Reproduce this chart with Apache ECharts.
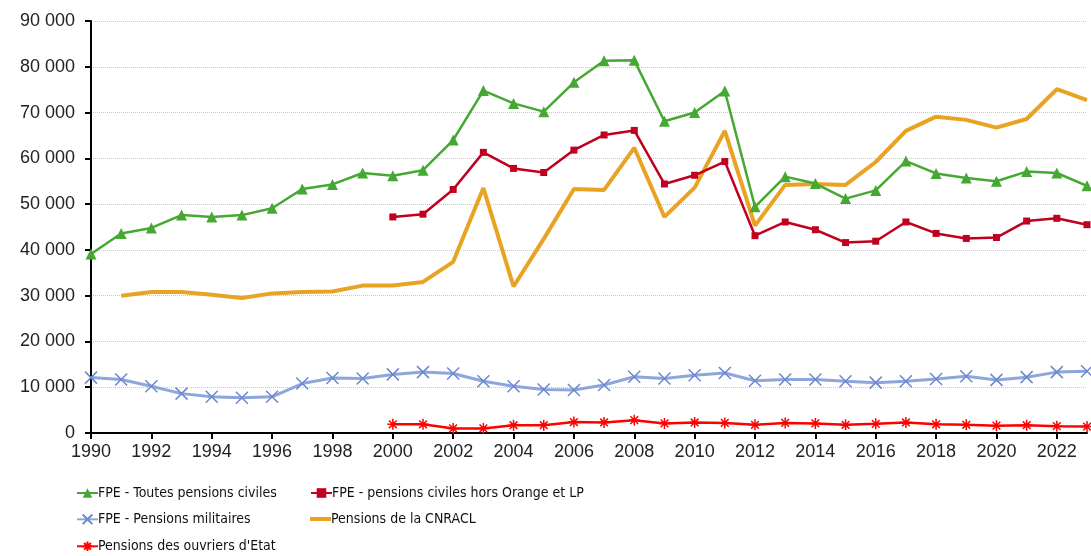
<!DOCTYPE html>
<html>
<head>
<meta charset="utf-8">
<script src="https://cdn.jsdelivr.net/npm/echarts@6/dist/echarts.min.js"></script>
<style>
	html, body { margin: 0; padding: 0; background: #fff; }
	#chart { width: 1091px; height: 556px; }
</style>
</head>
<body>
<div id="chart"></div>
<script>
// years on the x axis
const years = [];
for (let y = 1990; y <= 2023; y++) years.push(String(y));

// FPE - Toutes pensions civiles (1990-2023)
const fpeCiviles = [39100, 43600, 44800, 47600, 47200, 47600, 49100, 53300, 54300, 56800, 56200,
	57400, 64000, 74800, 72000, 70200, 76600, 81300, 81400, 68100, 70000, 74700,
	49400, 56000, 54500, 51200, 53000, 59400, 56700, 55700, 55000, 57100, 56800, 54000];

// FPE - pensions civiles hors Orange et LP (2000-2023)
const fpeHorsOrange = [null, null, null, null, null, null, null, null, null, null,
	47200, 47800, 53200, 61300, 57800, 56900, 61800, 65100, 66100, 54400, 56300, 59300,
	43100, 46100, 44400, 41600, 41900, 46100, 43600, 42500, 42700, 46300, 46900, 45500];

// FPE - Pensions militaires (1990-2023)
const fpeMilitaires = [12100, 11700, 10200, 8600, 7900, 7700, 7900, 10800, 12000, 11900, 12800,
	13300, 13000, 11300, 10200, 9500, 9400, 10500, 12300, 11900, 12600, 13100,
	11400, 11700, 11700, 11300, 11000, 11300, 11800, 12400, 11600, 12200, 13300, 13500];

// Pensions de la CNRACL (1991-2023)
const cnracl = [null, 30000, 30800, 30800, 30200, 29500, 30500, 30800, 30900, 32200, 32200,
	33000, 37400, 53500, 32000, 42400, 53300, 53100, 62300, 47200, 53600, 66000,
	45300, 54200, 54400, 54200, 59200, 66000, 69100, 68400, 66700, 68600, 75100, 72700];

// Pensions des ouvriers d'Etat (2000-2023)
const ouvriersEtat = [null, null, null, null, null, null, null, null, null, null,
	1900, 1900, 1000, 1000, 1700, 1700, 2400, 2300, 2800, 2100, 2300, 2200,
	1800, 2200, 2100, 1800, 2000, 2300, 1900, 1800, 1600, 1700, 1500, 1400];

const font = "'Liberation Sans', Arial, sans-serif";
const legendFont = "'Liberation Sans Narrow', 'DejaVu Sans Condensed', 'Liberation Sans', sans-serif";

const crossPath = "path://M0,0 L10,10 M10,0 L0,10";
const starPath = "path://M5,0 L5,10 M0,5 L10,5 M1.5,1.5 L8.5,8.5 M8.5,1.5 L1.5,8.5";

function fmt(v) {
	return String(v).replace(/\B(?=(\d{3})+(?!\d))/g, " ");
}

// one legend per entry, so that each sits where it does in the original
function legendItem(name, left, top, extra) {
	return Object.assign({
		left: left,
		top: top,
		padding: 0,
		itemWidth: 21,
		itemHeight: 12,
		data: [name],
		textStyle: { fontFamily: legendFont, fontSize: 14, color: "#111", padding: [0, 0, 0, -5] }
	}, extra || {});
}

const chart = echarts.init(document.getElementById("chart"));

const option = {
	animation: false,
	backgroundColor: "#fff",
	grid: {
		left: 91,
		right: 4,
		top: 21,
		bottom: 123,
		containLabel: false
	},
	legend: [
		legendItem("FPE - Toutes pensions civiles", 76, 486),
		legendItem("FPE - Pensions militaires", 76, 512),
		legendItem("Pensions des ouvriers d'Etat", 76, 539),
		legendItem("FPE - pensions civiles hors Orange et LP", 310, 486),
		legendItem("Pensions de la CNRACL", 310, 512, { icon: "rect", itemHeight: 4 })
	],
	xAxis: {
		type: "category",
		data: years,
		boundaryGap: false,
		axisLine: { lineStyle: { color: "#000", width: 2 } },
		axisTick: { show: true, interval: 1, length: 6, lineStyle: { color: "#000", width: 2 } },
		axisLabel: { interval: 1, fontFamily: font, fontSize: 18, color: "#222", margin: 10 },
		splitLine: { show: false }
	},
	yAxis: {
		type: "value",
		min: 0,
		max: 90000,
		interval: 10000,
		axisLine: { show: true, lineStyle: { color: "#000", width: 2 } },
		axisTick: { show: true, length: 6, lineStyle: { color: "#000", width: 2 } },
		axisLabel: { fontFamily: font, fontSize: 18, color: "#222", margin: 16, formatter: fmt },
		splitLine: { show: true, lineStyle: { color: "#c8c8c8", type: "dotted", width: 1 } }
	},
	series: [
		{
			name: "FPE - Toutes pensions civiles",
			type: "line",
			data: fpeCiviles,
			symbol: "triangle",
			symbolSize: 11,
			lineStyle: { color: "#44a832", width: 2.5 },
			itemStyle: { color: "#44a832" },
			z: 5
		},
		{
			name: "FPE - pensions civiles hors Orange et LP",
			type: "line",
			data: fpeHorsOrange,
			symbol: "rect",
			symbolSize: 7,
			lineStyle: { color: "#c0001e", width: 2.5 },
			itemStyle: { color: "#c0001e" },
			z: 4
		},
		{
			name: "FPE - Pensions militaires",
			type: "line",
			data: fpeMilitaires,
			symbol: crossPath,
			symbolSize: 12,
			lineStyle: { color: "#8ea6dc", width: 3 },
			itemStyle: { color: "none", borderColor: "#6a88cf", borderWidth: 1.5 },
			z: 3
		},
		{
			name: "Pensions de la CNRACL",
			type: "line",
			data: cnracl,
			symbol: "none",
			lineStyle: { color: "#e8a322", width: 4 },
			itemStyle: { color: "#e8a322" },
			z: 2
		},
		{
			name: "Pensions des ouvriers d'Etat",
			type: "line",
			data: ouvriersEtat,
			symbol: starPath,
			symbolSize: 11,
			lineStyle: { color: "#ff0000", width: 2.5 },
			itemStyle: { color: "none", borderColor: "#ff0000", borderWidth: 1.5 },
			z: 6
		}
	]
};

chart.setOption(option);
</script>
</body>
</html>
